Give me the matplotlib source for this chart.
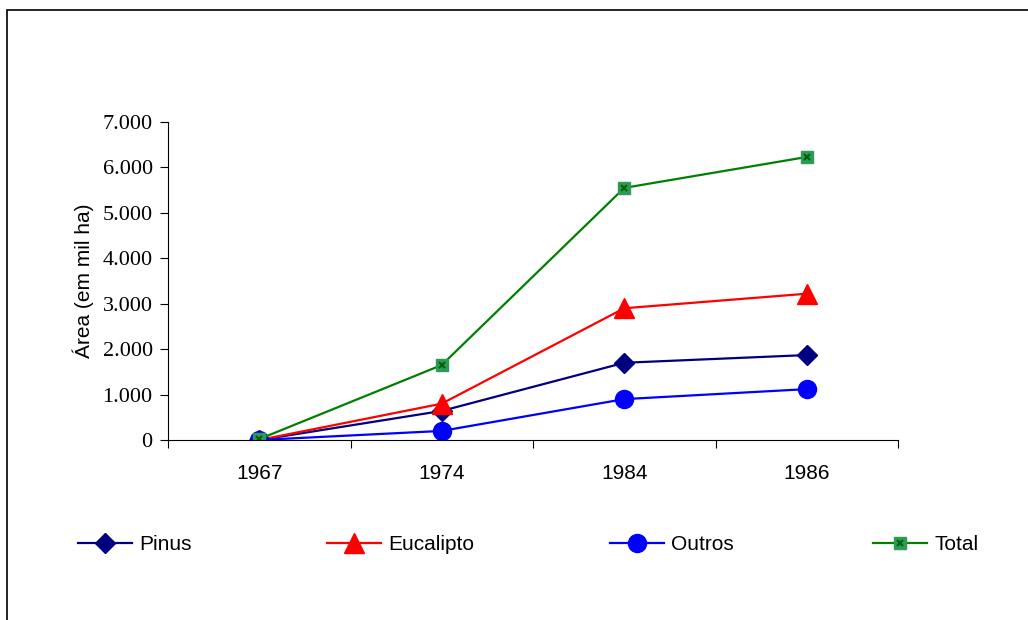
import matplotlib.pyplot as plt
from matplotlib.ticker import FuncFormatter
from matplotlib.patches import Rectangle
from matplotlib.legend_handler import HandlerTuple

anos = ['1967', '1974', '1984', '1986']
pinus = [0, 640, 1700, 1870]
eucalipto = [0, 800, 2900, 3220]
outros = [0, 200, 900, 1120]
total = [20, 1650, 5550, 6230]

fig = plt.figure(figsize=(10.28, 6.2), dpi=100)
ax = fig.add_axes([168/1028, 1 - 440/620, 730/1028, 318/620])

x = range(len(anos))
h_pin, = ax.plot(x, pinus, color='#000080', marker='D', markersize=10.5, lw=1.6, label='Pinus')
h_euc, = ax.plot(x, eucalipto, color='#ff0000', marker='^', markersize=14, lw=1.6, label='Eucalipto')
h_out, = ax.plot(x, outros, color='#0000ff', marker='o', markersize=13, lw=1.6, label='Outros')
h_tot, = ax.plot(x, total, color='#008000', marker='s', markersize=9, lw=1.6,
                 markerfacecolor='#2e9a5a', markeredgecolor='#2e9a5a', label='Total')
h_totx, = ax.plot(x, total, ls='none', marker='x', markersize=4, color='#006400', mew=1.5)

ax.set_xlim(-0.5, 3.5)
ax.set_ylim(0, 7000)
ax.set_xticks([-0.5, 0.5, 1.5, 2.5, 3.5])
ax.set_xticklabels([])
ax.set_xticks(list(x), minor=True)
ax.set_xticklabels(anos, minor=True, fontsize=15, family='Liberation Sans')
ax.tick_params(axis='x', which='minor', length=0, pad=17)
ax.tick_params(axis='x', which='major', length=6, direction='out')
ax.set_yticks(range(0, 7001, 1000))
ax.yaxis.set_major_formatter(FuncFormatter(lambda v, p: f'{int(v):,}'.replace(',', '.')))
ax.tick_params(axis='y', length=6, direction='out', pad=5)
for t in ax.get_yticklabels():
    t.set_family('Liberation Serif')
    t.set_fontsize(16)
for s in ['top', 'right']:
    ax.spines[s].set_visible(False)
ax.set_ylabel('Área (em mil ha)', fontsize=15, family='Liberation Sans', labelpad=6)

handles = [h_pin, h_euc, h_out, (h_tot, h_totx)]
nomes = ['Pinus', 'Eucalipto', 'Outros', 'Total']
x_leg = [78, 327, 610, 873]
for h, n, xl in zip(handles, nomes, x_leg):
    fig.legend([h], [n], handler_map={tuple: HandlerTuple(ndivide=1)},
               loc='center left', bbox_to_anchor=(xl/1028, 1 - 545/620),
               frameon=False, handlelength=2.6, handletextpad=0.35, borderpad=0,
               borderaxespad=0, prop={'family': 'Liberation Sans', 'size': 15})

fig.patches.append(Rectangle((7/1028, -0.1), 1.2, 1 - 10/620 + 0.1, transform=fig.transFigure,
                             fill=False, edgecolor='black', lw=1.2))

fig.savefig('out.png', dpi=100)
